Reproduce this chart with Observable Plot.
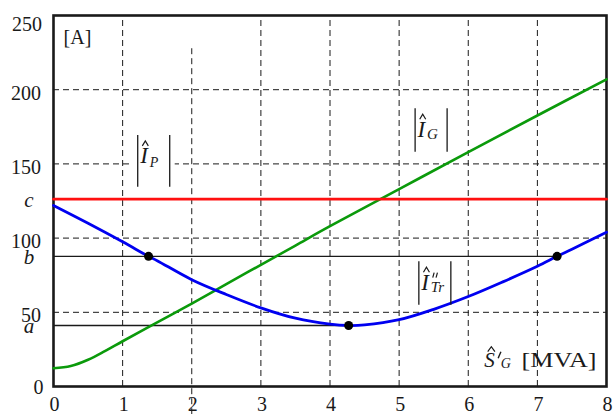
<!DOCTYPE html>
<html><head><meta charset="utf-8">
<script src="https://cdn.jsdelivr.net/npm/d3@7"></script>
<script src="https://cdn.jsdelivr.net/npm/@observablehq/plot@0.6"></script>
<style>body{margin:0;background:#fff}</style>
</head><body><div id="chart"></div>
<script>
// ---- data ----
const sG  = [0, 0.25, 0.5, 0.75, 1, 1.5, 2, 2.5, 3, 3.5, 4, 5, 6, 7, 8];
const iG  = [12.3, 13.8, 18, 24, 30.5, 43.2, 55.9, 69, 82, 95, 108, 133, 158, 182.6, 207];
const sTr = [0, 0.5, 1, 1.375, 1.5, 2, 2.5, 3, 3.5, 4, 4.27, 4.5, 5, 5.5, 6, 6.5, 7, 7.285, 7.5, 8];
const iTr = [122, 110, 97.5, 87.7, 84.8, 72, 62, 53, 46, 42, 41.1, 41.5, 45, 52, 60.6, 70.5, 81, 87.7, 92.5, 104];
const sP  = [0, 8];
const iP  = [126.2, 126.2];
const dotS = [1.375, 4.27, 7.285];
const dotI = [87.7, 41.1, 87.7];
const refEnd   = [7.285, 4.27];
const refLevel = [87.7, 41.1];
const xTickValues = [0, 1, 2, 3, 4, 5, 6, 7, 8];
const yTickValues = [0, 50, 100, 150, 200, 250];
const yLetterValues = [126.2, 87.7, 41.1];
const yLetterLabels = ["c", "b", "a"];
const gridX = [1, 2, 3, 4, 5, 6, 7];
const gridXTop = [250, 227.6, 250, 250, 250, 250, 250];
const gridXBottom = [0, -19, 0, 0, 0, 0, 0];
const gridY = [50, 100, 150, 200];
const unitLabel = [{x: 0.145, y: 231, text: "[A]"}];
const absLabels = [
  {x: 1.457, y: 151.6, sub: "P"},
  {x: 5.47,  y: 172.5, sub: "G"},
  {x: 5.524, y: 69.4,  sub: "Tr"}
];
const axisLabelPos = {x: 6.237, y: 13};

const toRows = (xs, ys) => xs.map((x, i) => ({x, y: ys[i]}));
const FONT = "'Liberation Serif', 'Times New Roman', Times, serif";
const INK = "#1a1a1a";
const dash = "6,4";

const plot = Plot.plot({
  width: 613, height: 414,
  marginLeft: 53, marginRight: 7, marginTop: 15, marginBottom: 28,
  x: {domain: [0, 8], axis: null},
  y: {domain: [0, 250], axis: null},
  style: {fontFamily: FONT, background: "white", color: INK, overflow: "visible"},
  marks: [
    Plot.ruleY(gridY, {x1: 0, x2: 8, stroke: INK, strokeWidth: 1, strokeDasharray: dash}),
    Plot.ruleX(gridX.map((x, i) => ({x, y1: gridXBottom[i], y2: gridXTop[i]})),
      {x: "x", y1: "y1", y2: "y2", stroke: INK, strokeWidth: 1, strokeDasharray: dash}),
    Plot.ruleY(refEnd.map((e, i) => ({e, v: refLevel[i]})), {y: "v", x1: 0, x2: "e", stroke: INK, strokeWidth: 1.3}),
    Plot.frame({stroke: INK, strokeWidth: 2.6}),
    Plot.line(toRows(sG, iG), {x: "x", y: "y", stroke: "#0b9a0b", strokeWidth: 2.6, curve: "catmull-rom"}),
    Plot.line(toRows(sP, iP), {x: "x", y: "y", stroke: "#ff1010", strokeWidth: 2.8}),
    Plot.line(toRows(sTr, iTr), {x: "x", y: "y", stroke: "#0000f0", strokeWidth: 2.8, curve: "catmull-rom"}),
    Plot.dot(toRows(dotS, dotI), {x: "x", y: "y", r: 4.5, fill: "#000", stroke: "none"}),
    // y tick labels
    Plot.text(yTickValues.filter(v => v > 0 && v < 250), {x: 0, y: d => d, text: d => String(d), textAnchor: "end", dx: -12.5, dy: 3.6, fontSize: 20, fill: INK}),
    Plot.text(yTickValues.filter(v => v === 250), {x: 0, y: d => d, text: d => String(d), textAnchor: "end", dx: -11.5, dy: 9.3, fontSize: 20, fill: INK}),
    Plot.text(yTickValues.filter(v => v === 0), {x: 0, y: d => d, text: d => String(d), textAnchor: "end", dx: -10, dy: 0.9, fontSize: 20, fill: INK}),
    Plot.text(yLetterValues, {x: 0, y: d => d, text: (d, i) => yLetterLabels[i], textAnchor: "middle", dx: -24.5, dy: 1, fontSize: 21, fontStyle: "italic", fill: INK}),
    // x tick labels
    Plot.text(xTickValues, {x: d => d, y: 0, text: d => String(d), lineAnchor: "top", dx: 1, dy: 10.5, fontSize: 20, fill: INK}),
    Plot.text(unitLabel, {x: "x", y: "y", text: "text", textAnchor: "start", lineAnchor: "bottom", fontSize: 20, fill: INK})
  ]
});
document.getElementById("chart").appendChild(plot);

// ---- math labels, placed with the plot's own scales ----
const X = plot.scale("x"), Y = plot.scale("y");
const svg = d3.select(plot);
const g = svg.append("g").attr("font-family", FONT).attr("fill", INK).attr("text-anchor", "start");

function txt(x, y, size, italic, s) {
  return g.append("text").attr("x", x).attr("y", y)
    .attr("text-anchor", "start")
    .style("font-size", size + "px").style("font-style", italic ? "italic" : "normal")
    .style("font-family", FONT).text(s);
}
function hat(cx, apexY, hw, h) {
  g.append("path")
    .attr("d", `M${cx - hw},${apexY + h} L${cx},${apexY} L${cx + hw},${apexY + h}`)
    .attr("fill", "none").attr("stroke", INK).attr("stroke-width", 1.2);
}

absLabels.forEach(L => {
  const cx = X.apply(L.x), cy = Y.apply(L.y);
  const isP = L.sub === "P";
  const top = isP ? -26 : -21.7, bot = isP ? 25.7 : 21.7;
  const base = cy + (isP ? 2.3 : 6.7);
  if (isP) {
    g.append("rect").attr("x", cx - 21).attr("y", cy - 29).attr("width", 42).attr("height", 58).attr("fill", "white");
  }
  [-16, 16].forEach(o => g.append("line")
    .attr("x1", cx + o).attr("x2", cx + o).attr("y1", cy + top).attr("y2", cy + bot)
    .attr("stroke", INK).attr("stroke-width", 1.3));
  txt(cx - 13.5, base, 23, true, "I");
  hat(cx - 8.4, base - 22.5, 3, 5);
  txt(cx - 4, base + (isP ? 3.4 : 1.8), isP ? 14 : 15, true, L.sub);
  if (L.sub === "Tr") {
    [-1.5, 1.8].forEach(o => g.append("line")
      .attr("x1", cx + o + 0.8).attr("x2", cx + o - 0.6).attr("y1", base - 17).attr("y2", base - 12)
      .attr("stroke", INK).attr("stroke-width", 1.2));
  }
});

// axis title  Ŝ′_G [MVA]
(() => {
  const ax = X.apply(axisLabelPos.x), ay = Y.apply(axisLabelPos.y);
  txt(ax, ay, 21, true, "S");
  hat(ax + 7.2, ay - 20, 3.6, 5);
  g.append("line").attr("x1", ax + 16.8).attr("y1", ay - 15).attr("x2", ax + 14).attr("y2", ay - 8.5)
    .attr("stroke", INK).attr("stroke-width", 1.4);
  txt(ax + 16.5, ay + 1.6, 14, true, "G");
  txt(ax + 37.4, ay, 21, false, "[MVA]")
    .attr("textLength", 75).attr("lengthAdjust", "spacingAndGlyphs");
})();
</script>
</body></html>
